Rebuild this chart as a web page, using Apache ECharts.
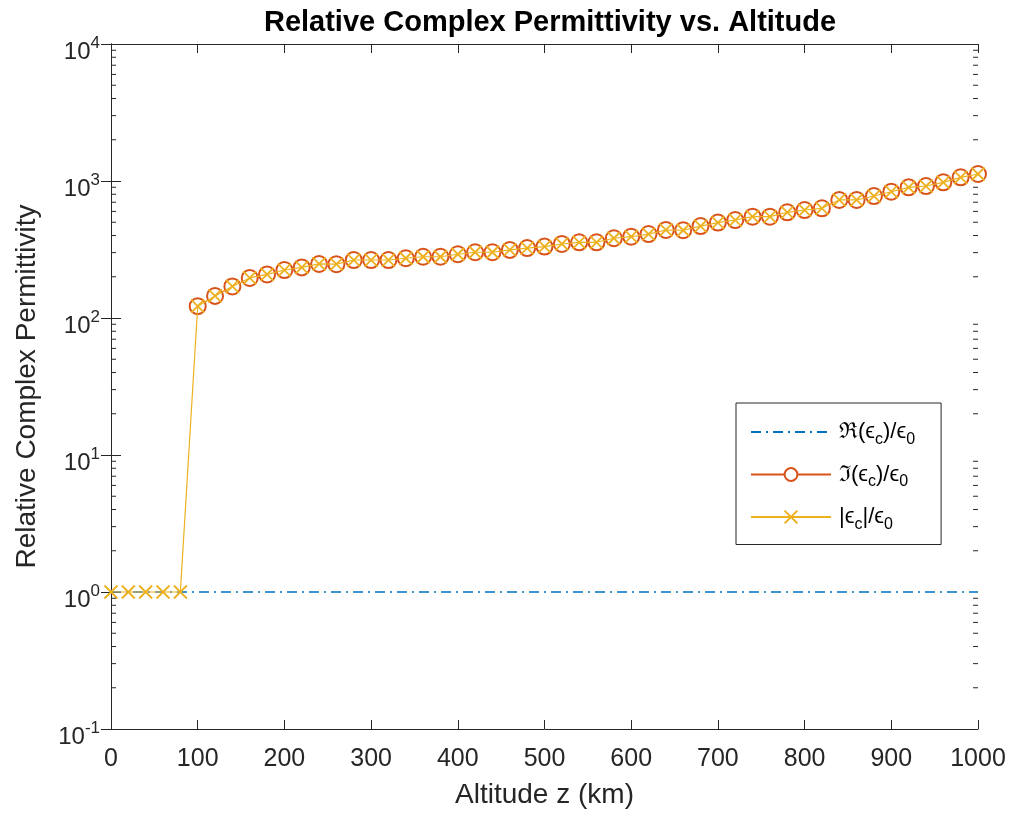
<!DOCTYPE html>
<html>
<head>
<meta charset="utf-8">
<script src="https://cdn.jsdelivr.net/npm/echarts@6/dist/echarts.min.js"></script>
<style>
  html, body { margin: 0; padding: 0; background: #fff; }
  #chart { width: 1015px; height: 818px; }
</style>
</head>
<body>
<div id="chart"></div>
<script>
// altitude samples (km)
const altitude = [0, 20, 40, 60, 80, 100, 120, 140, 160, 180, 200, 220, 240, 260, 280, 300,
  320, 340, 360, 380, 400, 420, 440, 460, 480, 500, 520, 540, 560, 580, 600, 620, 640,
  660, 680, 700, 720, 740, 760, 780, 800, 820, 840, 860, 880, 900, 920, 940, 960, 980, 1000];

const realVals = [1, 1, 1, 1, 1, 1, 1, 1, 1, 1, 1, 1, 1, 1, 1, 1, 1, 1, 1, 1, 1, 1, 1, 1, 1, 1,
  1, 1, 1, 1, 1, 1, 1, 1, 1, 1, 1, 1, 1, 1, 1, 1, 1, 1, 1, 1, 1, 1, 1, 1, 1];

const imagVals = [null, null, null, null, null, 122, 145, 170, 196, 208, 224, 234, 248, 247,
  265, 265, 265, 273, 280, 280, 292, 302, 302, 314, 324, 332, 347, 357, 357, 382, 392, 410,
  439, 437, 469, 497, 519, 549, 549, 591, 614, 632, 727, 727, 777, 835, 899, 919, 978, 1064, 1125];

const absVals = [1, 1, 1, 1, 1, 122, 145, 170, 196, 208, 224, 234, 248, 247,
  265, 265, 265, 273, 280, 280, 292, 302, 302, 314, 324, 332, 347, 357, 357, 382, 392, 410,
  439, 437, 469, 497, 519, 549, 549, 591, 614, 632, 727, 727, 777, 835, 899, 919, 978, 1064, 1125];

// log-axis minor tick positions (2..9 x 10^n)
const minorTicks = [0.2, 0.3, 0.4, 0.5, 0.6, 0.7, 0.8, 0.9,
  2, 3, 4, 5, 6, 7, 8, 9,
  20, 30, 40, 50, 60, 70, 80, 90,
  200, 300, 400, 500, 600, 700, 800, 900,
  2000, 3000, 4000, 5000, 6000, 7000, 8000, 9000];

const FONT = "'Liberation Sans', Arial, Helvetica, sans-serif";
const AXIS = "#262626";
const BLUE = "#0072BD", RED = "#D95319", YELLOW = "#EDB120";

function pairs(vals) {
  return altitude.map((x, i) => [x, vals[i]]);
}

function powLabel(v) {
  const e = Math.round(Math.log10(v));
  return "{b|10}{e|" + e + "}";
}

const legendRich = {
  n: { fontFamily: FONT, fontSize: 22, color: "#000" },
  s: { fontFamily: FONT, fontSize: 16, color: "#000", padding: [15, 0, 0, 0] },
};

const legendText = {
  re: "{n|\u211C(\u03F5}{s|c}{n|)/\u03F5}{s|0}",
  im: "{n|\u2111(\u03F5}{s|c}{n|)/\u03F5}{s|0}",
  abs: "{n||\u03F5}{s|c}{n||/\u03F5}{s|0}",
};

const xAxisBase = {
  type: "value",
  min: 0,
  max: 1000,
  interval: 100,
  axisLine: { show: true, lineStyle: { color: AXIS, width: 1 } },
  axisTick: { show: true, inside: true, length: 9, lineStyle: { color: AXIS } },
  splitLine: { show: false },
};

const yAxisBase = {
  type: "log",
  logBase: 10,
  min: 0.1,
  max: 10000,
  axisLine: { show: true, lineStyle: { color: AXIS, width: 1 } },
  axisTick: { show: true, inside: true, length: 10, lineStyle: { color: AXIS } },
  splitLine: { show: false },
  minorTick: { show: false },
};

const chart = echarts.init(document.getElementById("chart"), null, { renderer: "canvas" });

chart.setOption({
  animation: false,
  backgroundColor: "#fff",
  textStyle: { fontFamily: FONT },
  title: {
    text: "Relative Complex Permittivity vs. Altitude",
    left: 545,
    top: 3,
    textAlign: "center",
    textStyle: { fontFamily: FONT, fontSize: 29, fontWeight: "bold", color: "#000" },
  },
  grid: { left: 111, right: 37, top: 44, bottom: 89, containLabel: false },
  legend: {
    data: [
      { name: "re", itemStyle: { opacity: 0 } },
      { name: "im" },
      { name: "abs" },
    ],
    orient: "vertical",
    left: 736,
    top: 403,
    padding: [18, 26, 12, 14],
    itemWidth: 80,
    itemHeight: 16,
    itemGap: 16,
    backgroundColor: "#fff",
    borderColor: AXIS,
    borderWidth: 1,
    formatter: (name) => legendText[name],
    textStyle: { rich: legendRich, padding: [0, 0, 0, 3] },
  },
  xAxis: [
    Object.assign({}, xAxisBase, {
      position: "bottom",
      name: "Altitude z (km)",
      nameLocation: "middle",
      nameGap: 52,
      nameTextStyle: { fontFamily: FONT, fontSize: 28, color: AXIS },
      axisLabel: {
        fontFamily: FONT, fontSize: 25, color: AXIS, margin: 18,
        formatter: (v) => String(v),
      },
    }),
    Object.assign({}, xAxisBase, { position: "top", axisLabel: { show: false } }),
  ],
  yAxis: [
    Object.assign({}, yAxisBase, {
      position: "left",
      name: "Relative Complex Permittivity",
      nameLocation: "middle",
      nameGap: 70,
      nameTextStyle: { fontFamily: FONT, fontSize: 28, color: AXIS },
      axisLabel: {
        margin: 11,
        formatter: powLabel,
        rich: {
          b: { fontFamily: FONT, fontSize: 24, color: AXIS, padding: [17, 0, 0, 0] },
          e: { fontFamily: FONT, fontSize: 17, color: AXIS, padding: [0, 0, 2, 0] },
        },
      },
    }),
    Object.assign({}, yAxisBase, { position: "right", axisLabel: { show: false } }),
  ],
  series: [
    {
      name: "re",
      type: "line",
      data: pairs(realVals),
      showSymbol: false,
      symbol: "none",
      lineStyle: { color: BLUE, width: 1.4, type: [10, 5, 2, 5] },
      itemStyle: { color: BLUE },
      z: 2,
    },
    {
      name: "im",
      type: "line",
      data: pairs(imagVals),
      connectNulls: false,
      symbol: "emptyCircle",
      symbolSize: 16,
      lineStyle: { color: RED, width: 1.2 },
      itemStyle: { color: RED, borderColor: RED, borderWidth: 1.8 },
      z: 3,
    },
    {
      name: "abs",
      type: "line",
      data: pairs(absVals),
      symbol: "path://M0,0L10,10M0,10L10,0",
      symbolSize: 13,
      lineStyle: { color: YELLOW, width: 1.2 },
      itemStyle: { color: YELLOW, borderColor: YELLOW, borderWidth: 1.8 },
      z: 4,
    },
    {
      // log minor ticks on both vertical edges of the box
      type: "custom",
      silent: true,
      z: 5,
      data: minorTicks.map((v) => [0, v]),
      renderItem: (params, api) => {
        const p = api.coord([0, api.value(1)]);
        const cs = params.coordSys;
        const style = { stroke: AXIS, lineWidth: 1 };
        return {
          type: "group",
          children: [
            { type: "line", shape: { x1: cs.x, y1: p[1], x2: cs.x + 5, y2: p[1] }, style },
            { type: "line", shape: { x1: cs.x + cs.width - 5, y1: p[1], x2: cs.x + cs.width, y2: p[1] }, style },
          ],
        };
      },
    },
  ],
});
</script>
</body>
</html>
